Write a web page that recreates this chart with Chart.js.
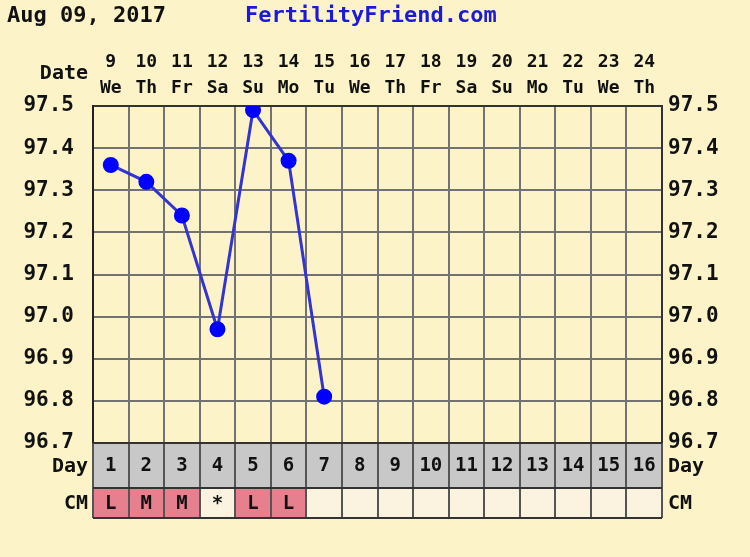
<!DOCTYPE html>
<html lang="en">
<head>
<meta charset="UTF-8">
<title>Fertility Chart</title>
<script src="https://cdn.jsdelivr.net/npm/chart.js"></script>
<style>
  body { margin: 0; background-color: #fcf4c8; }
  canvas { display: block; }
</style>
</head>
<body>
<canvas id="bbtChart" width="750" height="557"></canvas>
<script>
// chart data
const chartDate = 'Aug 09, 2017';
const siteName = 'FertilityFriend.com';
const dates = ['9', '10', '11', '12', '13', '14', '15', '16', '17', '18', '19', '20', '21', '22', '23', '24'];
const weekdays = ['We', 'Th', 'Fr', 'Sa', 'Su', 'Mo', 'Tu', 'We', 'Th', 'Fr', 'Sa', 'Su', 'Mo', 'Tu', 'We', 'Th'];
const temps = [97.36, 97.32, 97.24, 96.97, 97.49, 97.37, 96.81, null, null, null, null, null, null, null, null, null];
const cycleDays = ['1', '2', '3', '4', '5', '6', '7', '8', '9', '10', '11', '12', '13', '14', '15', '16'];
const cervicalMucus = ['L', 'M', 'M', '*', 'L', 'L', '', '', '', '', '', '', '', '', '', ''];
const tempMin = 96.7;
const tempMax = 97.5;

const BG = '#fcf4c8';
const FONT = '"DejaVu Sans Mono", monospace';
const gridColor = '#727272';

const fertilityRows = {
    id: 'fertilityRows',
    beforeDraw(chart) {
        const ctx = chart.ctx;
        ctx.save();
        ctx.fillStyle = BG;
        ctx.fillRect(0, 0, chart.width, chart.height);
        ctx.restore();
    },
    afterDraw(chart) {
        const ctx = chart.ctx;
        const area = chart.chartArea;
        const x = chart.scales.x;
        const colW = x.getPixelForValue(1) - x.getPixelForValue(0);
        const dayTop = area.bottom;
        const dayBottom = dayTop + 45;
        const cmBottom = dayBottom + 30;

        ctx.save();
        // header
        ctx.textBaseline = 'middle';
        ctx.font = 'bold 22px ' + FONT;
        ctx.fillStyle = '#111';
        ctx.textAlign = 'left';
        ctx.fillText(chartDate, 7, 16);
        ctx.fillStyle = '#1a1ad8';
        ctx.fillText(siteName, 245, 16);

        ctx.font = 'bold 20px ' + FONT;
        ctx.fillStyle = '#111';
        ctx.textAlign = 'right';
        ctx.fillText('Date', 88, 74);

        // day + CM rows
        dates.forEach((d, i) => {
            const left = x.getPixelForValue(i) - colW / 2;
            ctx.fillStyle = '#c8c8c8';
            ctx.fillRect(left, dayTop, colW, dayBottom - dayTop);
            const mark = cervicalMucus[i];
            ctx.fillStyle = (mark && mark !== '*') ? '#e67f8e' : '#fbf2e0';
            ctx.fillRect(left, dayBottom, colW, cmBottom - dayBottom);
        });

        ctx.strokeStyle = '#555';
        ctx.lineWidth = 2;
        for (let i = 0; i <= dates.length; i++) {
            const lx = Math.round(area.left + i * colW);
            ctx.beginPath();
            ctx.moveTo(lx, dayTop);
            ctx.lineTo(lx, cmBottom);
            ctx.stroke();
        }
        ctx.strokeStyle = '#333';
        [dayTop, dayBottom, cmBottom].forEach(ly => {
            ctx.beginPath();
            ctx.moveTo(area.left, ly);
            ctx.lineTo(area.right, ly);
            ctx.stroke();
        });

        ctx.fillStyle = '#111';
        ctx.textAlign = 'center';
        ctx.font = 'bold 19px ' + FONT;
        cycleDays.forEach((d, i) => {
            ctx.fillText(d, x.getPixelForValue(i), (dayTop + dayBottom) / 2 + 1);
        });
        cervicalMucus.forEach((m, i) => {
            if (m) ctx.fillText(m, x.getPixelForValue(i), (dayBottom + cmBottom) / 2 + 1);
        });

        ctx.font = 'bold 20px ' + FONT;
        ctx.textAlign = 'right';
        ctx.fillText('Day', 88, (dayTop + dayBottom) / 2 + 1);
        ctx.fillText('CM', 88, (dayBottom + cmBottom) / 2 + 1);
        ctx.textAlign = 'left';
        ctx.fillText('Day', area.right + 6, (dayTop + dayBottom) / 2 + 1);
        ctx.fillText('CM', area.right + 6, (dayBottom + cmBottom) / 2 + 1);
        ctx.restore();
    }
};

const tickFormat = v => Number(v).toFixed(1);

new Chart(document.getElementById('bbtChart'), {
    type: 'line',
    data: {
        labels: dates.map((d, i) => [d, weekdays[i]]),
        datasets: [{
            data: temps,
            borderColor: '#3434d0',
            borderWidth: 3,
            pointBackgroundColor: '#0000ff',
            pointBorderColor: '#0000ff',
            pointRadius: 6.5,
            pointHoverRadius: 6.5,
            tension: 0,
            spanGaps: false,
            yAxisID: 'y'
        }]
    },
    options: {
        responsive: false,
        animation: false,
        layout: { padding: { top: 0, left: 0, right: 0, bottom: 114 } },
        plugins: {
            legend: { display: false },
            tooltip: { enabled: false }
        },
        scales: {
            x: {
                position: 'top',
                offset: true,
                afterFit: s => { s.height = 106; },
                grid: { offset: true, color: gridColor, lineWidth: 2, drawTicks: false },
                border: { color: '#333', width: 2 },
                ticks: {
                    color: '#111',
                    padding: 5,
                    maxRotation: 0,
                    autoSkip: false,
                    font: { family: FONT, weight: 'bold', size: 18, lineHeight: 1.45 }
                }
            },
            y: {
                position: 'left',
                min: tempMin,
                max: tempMax,
                afterFit: s => { s.width = 93; },
                grid: { color: gridColor, lineWidth: 2, drawTicks: false },
                border: { color: '#222', width: 2 },
                ticks: {
                    stepSize: 0.1,
                    padding: 19,
                    color: '#111',
                    callback: tickFormat,
                    font: { family: FONT, weight: 'bold', size: 21 }
                }
            },
            y2: {
                position: 'right',
                min: tempMin,
                max: tempMax,
                afterFit: s => { s.width = 88; },
                grid: { display: false, drawTicks: false },
                border: { color: '#333', width: 2 },
                ticks: {
                    stepSize: 0.1,
                    padding: 6,
                    color: '#111',
                    callback: tickFormat,
                    font: { family: FONT, weight: 'bold', size: 21 }
                }
            }
        }
    },
    plugins: [fertilityRows]
});
</script>
</body>
</html>
